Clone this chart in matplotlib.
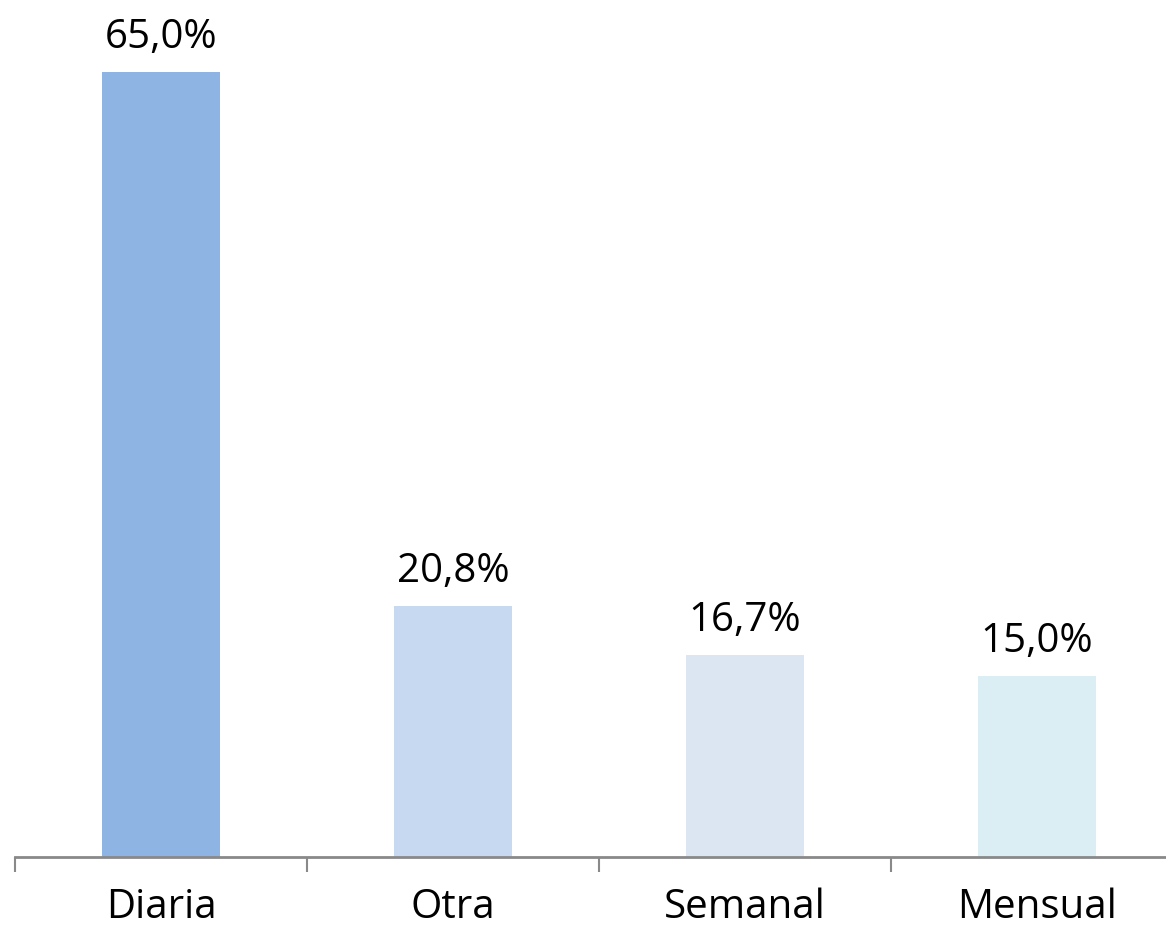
import matplotlib
matplotlib.use("Agg")
import matplotlib.pyplot as plt

categories = ["Diaria", "Otra", "Semanal", "Mensual"]
values = [65.0, 20.8, 16.7, 15.0]
labels = ["65,0%", "20,8%", "16,7%", "15,0%"]
colors = ["#8EB4E3", "#C6D9F1", "#DCE6F2", "#DBEEF4"]

plt.rcParams['font.family'] = ['Open Sans', 'DejaVu Sans']

W, H = 1166, 936
fig = plt.figure(figsize=(W / 100, H / 100), dpi=100)
left = 15 / W
width = 1168 / W
bottom = (H - 857) / H
ymax = 70
pxper = 785 / 65.0
height = ymax * pxper / H
ax = fig.add_axes([left, bottom, width, height])

x = list(range(len(categories)))
bars = ax.bar(x, values, width=0.402, color=colors, zorder=2)
ax.set_xlim(-0.5, len(categories) - 0.5)
ax.set_ylim(0, ymax)

for xi, v, lab in zip(x, values, labels):
    ax.annotate(lab, (xi, v), xytext=(0, 10), textcoords="offset points",
                ha="center", va="bottom", fontsize=29, color="black")

for s in ["top", "right", "left"]:
    ax.spines[s].set_visible(False)
ax.spines["bottom"].set_color("#898989")
ax.spines["bottom"].set_linewidth(2)
ax.set_yticks([])
ax.set_xticks([i - 0.5 for i in range(len(categories) + 1)], minor=False)
ax.set_xticklabels([""] * (len(categories) + 1))
ax.tick_params(axis="x", which="major", length=11, width=1.5, color="#898989")
ax.set_xticks(x, minor=True)
ax.set_xticklabels(categories, minor=True, fontsize=29)
ax.tick_params(axis="x", which="minor", length=0, pad=22)

fig.savefig("out.png", dpi=100)
